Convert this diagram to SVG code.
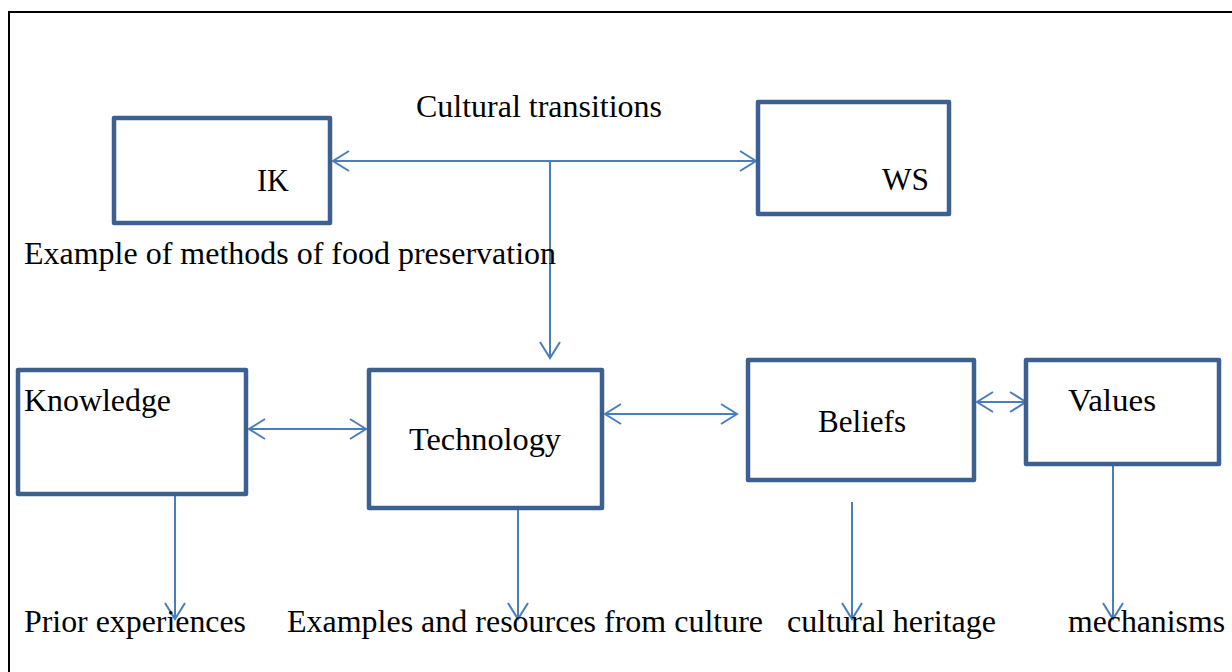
<svg xmlns="http://www.w3.org/2000/svg" width="1232" height="672" viewBox="0 0 1232 672">
  <defs>
    <style>
      .box { fill: #ffffff; stroke: #3c6191; stroke-width: 4.5; stroke-linejoin: round; }
      .conn { fill: none; stroke: #4a7ebb; stroke-width: 2; }
      text { font-family: 'Liberation Serif', 'Times New Roman', 'DejaVu Serif', serif; font-size: 32px; fill: #000000; }
    </style>
    <marker id="arr" viewBox="0 0 20 24" refX="18" refY="12" markerWidth="20" markerHeight="24" markerUnits="userSpaceOnUse" orient="auto-start-reverse">
      <path d="M2,2 L18,12 L2,22" fill="none" stroke="#4a7ebb" stroke-width="2"/>
    </marker>
  </defs>
  <rect x="0" y="0" width="1232" height="672" fill="#ffffff"/>
  <path d="M9,672 L9,12 L1232,12" fill="none" stroke="#000000" stroke-width="2"/>

  <g id="connectors">
    <line class="conn" x1="333" y1="161" x2="756" y2="161" marker-start="url(#arr)" marker-end="url(#arr)"/>
    <line class="conn" x1="550" y1="161" x2="550" y2="358" marker-end="url(#arr)"/>
    <line class="conn" x1="249" y1="429" x2="366" y2="429" marker-start="url(#arr)" marker-end="url(#arr)"/>
    <line class="conn" x1="605" y1="414" x2="737" y2="414" marker-start="url(#arr)" marker-end="url(#arr)"/>
    <line class="conn" x1="977" y1="402" x2="1026" y2="402" marker-start="url(#arr)" marker-end="url(#arr)"/>
    <line class="conn" x1="175" y1="494" x2="175" y2="619" marker-end="url(#arr)"/>
    <line class="conn" x1="518" y1="502" x2="518" y2="619" marker-end="url(#arr)"/>
    <line class="conn" x1="852" y1="502" x2="852" y2="619" marker-end="url(#arr)"/>
    <line class="conn" x1="1113" y1="465" x2="1113" y2="619" marker-end="url(#arr)"/>
  </g>

  <g id="node-ik">
    <rect class="box" x="114" y="118" width="216" height="105"/>
    <text x="257" y="191" textLength="32" lengthAdjust="spacingAndGlyphs">IK</text>
  </g>
  <g id="node-ws">
    <rect class="box" x="758" y="102" width="191" height="112"/>
    <text x="882" y="190" textLength="47" lengthAdjust="spacingAndGlyphs">WS</text>
  </g>
  <g id="node-knowledge">
    <rect class="box" x="18" y="370" width="228" height="124"/>
    <text x="24" y="411" textLength="147" lengthAdjust="spacingAndGlyphs">Knowledge</text>
  </g>
  <g id="node-technology">
    <rect class="box" x="369" y="370" width="233" height="138"/>
    <text x="409" y="450" textLength="152" lengthAdjust="spacingAndGlyphs">Technology</text>
  </g>
  <g id="node-beliefs">
    <rect class="box" x="748" y="360" width="226" height="120"/>
    <text x="818" y="432" textLength="88" lengthAdjust="spacingAndGlyphs">Beliefs</text>
  </g>
  <g id="node-values">
    <rect class="box" x="1026" y="360" width="193" height="104"/>
    <text x="1068" y="411" textLength="88" lengthAdjust="spacingAndGlyphs">Values</text>
  </g>

  <g id="labels">
    <text x="416" y="117" textLength="246" lengthAdjust="spacingAndGlyphs">Cultural transitions</text>
    <text x="24" y="264" textLength="532" lengthAdjust="spacingAndGlyphs">Example of methods of food preservation</text>
    <text x="24" y="632" textLength="222" lengthAdjust="spacingAndGlyphs">Prior experiences</text>
    <text x="287" y="632" textLength="476" lengthAdjust="spacingAndGlyphs">Examples and resources from culture</text>
    <text x="787" y="632" textLength="209" lengthAdjust="spacingAndGlyphs">cultural heritage</text>
    <text x="1068" y="632" textLength="157" lengthAdjust="spacingAndGlyphs">mechanisms</text>
  </g>
</svg>
